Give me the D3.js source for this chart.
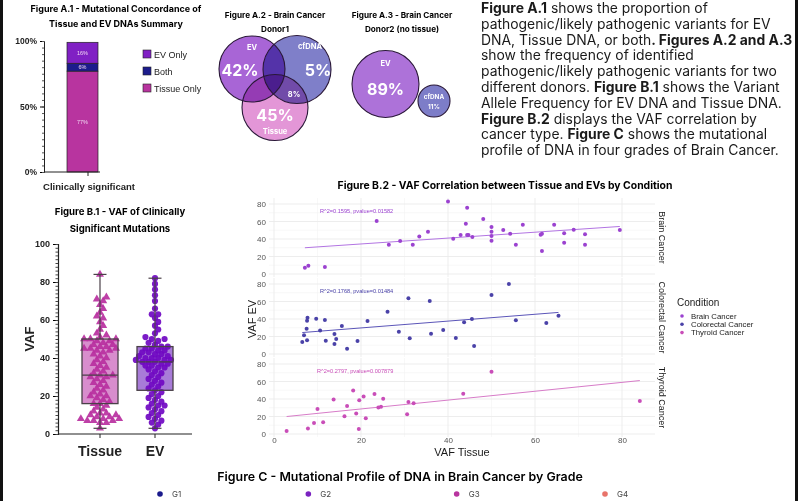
<!DOCTYPE html>
<html>
<head>
<meta charset="utf-8">
<script src="https://cdn.jsdelivr.net/npm/d3@7"></script>
<style>
  body { margin: 0; background: #fff; }
  svg { display: block; }
  .poppins { font-family: Inter, "Open Sans", sans-serif; }
  .arial { font-family: "Liberation Sans", Arial, sans-serif; }
</style>
</head>
<body>
<script>
// ---- data ----
// A.1 stacked bar (bottom to top)
var a1Labels = ["Tissue Only", "Both", "EV Only"];
var a1Values = [77, 6, 16];
var a1Colors = ["#b8349f", "#1c1c8c", "#8020c4"];

// A.2 / A.3 venn labels
var donor1Sets = ["EV", "cfDNA", "Tissue"];
var donor1Pct = [42, 5, 45];
var donor1Overlap = 8;
var donor2Sets = ["EV", "cfDNA"];
var donor2Pct = [89, 11];

// B.1 VAF per sample
var b1Groups = ["Tissue", "EV"];
var tissueVAF = [3, 6, 6, 7, 7, 7, 8, 8, 8, 9, 9, 10, 10, 11, 11, 12, 13, 14, 15, 16,
  16, 17, 18, 19, 20, 20, 21, 22, 23, 24, 25, 26, 27, 28, 29, 30, 30, 31, 31, 32,
  33, 34, 35, 36, 37, 38, 39, 40, 41, 42, 43, 44, 44, 45, 45, 45, 46, 46, 47, 47,
  48, 49, 49, 50, 50, 50, 51, 52, 53, 55, 57, 59, 61, 62, 64, 66, 68, 70, 71, 72, 84];
var evVAF = [3, 5, 6, 7, 8, 9, 10, 11, 12, 13, 14, 15, 15, 16, 17, 18, 19, 20, 21, 22,
  23, 24, 25, 26, 27, 28, 29, 30, 31, 32, 33, 34, 35, 35, 36, 36, 37, 37, 38, 38,
  38, 39, 39, 39, 40, 40, 40, 41, 41, 42, 42, 43, 43, 44, 44, 45, 45, 46, 46, 47,
  48, 49, 50, 50, 51, 53, 55, 57, 59, 61, 63, 63, 66, 70, 73, 76, 79, 82];
// min, q1, median, q3, max
var tissueBox = [3, 16, 31, 50, 84];
var evBox = [3, 23, 38, 46, 82];

// B.2 VAF tissue (x) vs VAF EV (y)
var conditions = ["Brain Cancer", "Colorectal Cancer", "Thyroid Cancer"];
var brainX = [7.1, 7.9, 11.7, 23.6, 26.4, 29, 31.9, 33.4, 35.4, 40, 41.2, 42.9, 44.1, 44.4, 44.4, 44.7, 45.6, 48.1,
  50, 50, 50, 50, 52.7, 54.3, 55.6, 57.2, 61.3, 61.6, 61.6, 64.4, 66.7, 66.7, 68.9, 71.5, 71.5, 79.5];
var brainY = [7.2, 9.5, 8, 60.6, 33.5, 37.7, 33.5, 43, 48.4, 83, 40.4, 44.6, 57.5, 75.8, 44.6, 44.6, 42.3, 62.9,
  53.7, 48.4, 43.4, 38.1, 50.3, 46.1, 33.5, 56.4, 45, 46.1, 26.3, 56.4, 46.5, 35.8, 50.7, 45.3, 33.5, 50.3];
var colorectalX = [6.5, 6.9, 7.5, 7.6, 7.7, 7.6, 9.7, 10.6, 11.7, 11.9, 13.9, 13.9, 14.3, 15.6, 16.8, 19.2, 21.5,
  26.1, 28.7, 30.9, 31.2, 35.8, 36.1, 38.9, 41.8, 43.7, 45.5, 46, 50, 54, 55.6, 62.6, 65.4];
var colorectalY = [13.7, 21.3, 29, 38, 41.5, 15.6, 40.4, 27, 38.9, 15.2, 22.9, 11.4, 17.1, 32, 6, 14.9, 37.7,
  48.4, 25.5, 63.6, 17.9, 60.6, 23.2, 27.4, 18.3, 36.2, 40, 9.1, 67.4, 80, 38.5, 35.4, 43.8];
var thyroidX = [2.9, 7.8, 9.2, 10, 11.3, 13.7, 16.2, 16.8, 18.2, 18.9, 19.5, 19.6, 20.6, 21.1, 23.1, 24, 24.6,
  25.1, 30.6, 30.9, 32.1, 43.5, 50, 84.1];
var thyroidY = [3.3, 6.3, 12.6, 28.5, 13.3, 39.3, 20.4, 31.9, 49.6, 23.3, 5.6, 38.5, 43, 18.1, 45.6, 30.4, 31.1,
  40.4, 22.6, 36.7, 35.2, 45.9, 71.1, 37.8];
// fitted lines: intercept, slope
var fitIntercept = [27.6, 22, 18.5];
var fitSlope = [0.336, 0.39, 0.506];
var fitLabels = ["R^2=0.1595, pvalue=0.01582", "R^2=0.1768, pvalue=0.01484", "R^2=0.2797, pvalue=0.007879"];
var condColors = ["#9b42d0", "#4a42a8", "#c94db8"];
var lineColors = ["#b274e2", "#5b55b8", "#d77cc8"];

// C legend
var grades = ["G1", "G2", "G3", "G4"];
var gradeColors = ["#1a1a8c", "#7a22c0", "#b8349f", "#e8736a"];

var textLines = [
  [["Figure A.1", 1], [" shows the proportion of", 0]],
  [["pathogenic/likely pathogenic variants for EV", 0]],
  [["DNA, Tissue DNA, or both", 0], [". Figures A.2 and A.3", 1]],
  [["show the frequency of identified", 0]],
  [["pathogenic/likely pathogenic variants for two", 0]],
  [["different donors. ", 0], ["Figure B.1", 1], [" shows the Variant", 0]],
  [["Allele Frequency for EV DNA and Tissue DNA.", 0]],
  [["Figure B.2", 1], [" displays the VAF correlation by", 0]],
  [["cancer type. ", 0], ["Figure C", 1], [" shows the mutational", 0]],
  [["profile of DNA in four grades of Brain Cancer.", 0]]
];

var W = 802, H = 501;
var svg = d3.select("body").append("svg").attr("width", W).attr("height", H);

// ---------- Figure A.1 ----------
var a1 = svg.append("g");
a1.append("text").attr("class", "poppins").attr("x", 116).attr("y", 12).attr("text-anchor", "middle")
  .style("font-size", "9px").style("font-weight", 700).text("Figure A.1 - Mutational Concordance of");
a1.append("text").attr("class", "poppins").attr("x", 116).attr("y", 27).attr("text-anchor", "middle")
  .style("font-size", "9px").style("font-weight", 700).text("Tissue and EV DNAs Summary");

var a1y = d3.scaleLinear().domain([0, 100]).range([172, 41]);
var stack = [];
var acc = 0;
a1Values.forEach(function (v, i) { stack.push({ y0: acc, y1: acc + v, v: v, c: a1Colors[i], l: a1Labels[i] }); acc += v; });
a1.selectAll("rect.seg").data(stack).enter().append("rect")
  .attr("x", 67).attr("width", 31)
  .attr("y", function (d) { return a1y(d.y1); })
  .attr("height", function (d) { return a1y(d.y0) - a1y(d.y1); })
  .attr("fill", function (d) { return d.c; })
  .attr("stroke", "#222").attr("stroke-width", 0.7);
a1.selectAll("text.seg").data(stack).enter().append("text").attr("class", "arial")
  .attr("x", 82.5).attr("y", function (d) { return (a1y(d.y0) + a1y(d.y1)) / 2 + 2; })
  .attr("text-anchor", "middle").style("font-size", "5.5px").attr("fill", "#f1d6f2")
  .text(function (d) { return d.v + "%"; });
var a1Axis = d3.axisLeft(a1y).tickValues([0, 50, 100]).tickFormat(function (d) { return d + "%"; }).tickSize(4);
var ga1 = a1.append("g").attr("transform", "translate(44,0)").call(a1Axis);
ga1.select(".domain").attr("stroke", "#222");
ga1.selectAll("text").attr("class", "arial").style("font-size", "8.5px").style("font-weight", 700).attr("fill", "#222");
a1.append("g").attr("transform", "translate(44,0)")
  .call(d3.axisLeft(a1y).tickValues(d3.range(0, 101, 5)).tickSize(2).tickFormat(""))
  .call(function (g) { g.select(".domain").remove(); g.selectAll("line").attr("stroke", "#555"); });
a1.append("line").attr("x1", 44).attr("x2", 100).attr("y1", 172).attr("y2", 172).attr("stroke", "#222");
a1.append("line").attr("x1", 88).attr("x2", 88).attr("y1", 172).attr("y2", 176).attr("stroke", "#222");
a1.append("text").attr("class", "arial").attr("x", 89).attr("y", 190).attr("text-anchor", "middle")
  .style("font-size", "9.5px").style("font-weight", 700).attr("fill", "#222").text("Clinically significant");
var legA1 = a1.selectAll("g.leg").data(stack.slice().reverse()).enter().append("g")
  .attr("transform", function (d, i) { return "translate(143," + (50 + i * 17) + ")"; });
legA1.append("rect").attr("width", 8).attr("height", 8).attr("fill", function (d) { return d.c; })
  .attr("stroke", "#222").attr("stroke-width", 0.6);
legA1.append("text").attr("class", "arial").attr("x", 11).attr("y", 7.5).style("font-size", "9px")
  .attr("fill", "#222").text(function (d) { return d.l; });

// ---------- Figure A.2 / A.3 ----------
var ven = svg.append("g");
function title2(x, l1, l2) {
  ven.append("text").attr("class", "poppins").attr("x", x).attr("y", 17.5).attr("text-anchor", "middle")
    .style("font-size", "8.2px").style("font-weight", 700).text(l1);
  ven.append("text").attr("class", "poppins").attr("x", x).attr("y", 32).attr("text-anchor", "middle")
    .style("font-size", "8.2px").style("font-weight", 700).text(l2);
}
title2(275, "Figure A.2 - Brain Cancer", "Donor1");
title2(402, "Figure A.3 - Brain Cancer", "Donor2 (no tissue)");

var d1Circles = [
  { cx: 252, cy: 69, r: 33, fill: "#a865d6" },
  { cx: 297, cy: 69.5, r: 34, fill: "#7f7fc9" },
  { cx: 275, cy: 107.5, r: 33, fill: "#e396d7" }
];
ven.selectAll("circle.d1").data(d1Circles).enter().append("circle")
  .attr("cx", function (d) { return d.cx; }).attr("cy", function (d) { return d.cy; })
  .attr("r", function (d) { return d.r; }).attr("fill", function (d) { return d.fill; })
  .style("mix-blend-mode", "multiply");
ven.selectAll("circle.d1o").data(d1Circles).enter().append("circle")
  .attr("cx", function (d) { return d.cx; }).attr("cy", function (d) { return d.cy; })
  .attr("r", function (d) { return d.r; }).attr("fill", "none").attr("stroke", "#2a1838").attr("stroke-width", 1.1);
var d1Txt = [
  { x: 252, y: 50, s: 7.5, t: donor1Sets[0] },
  { x: 240, y: 76, s: 16, t: donor1Pct[0] + "%" },
  { x: 310, y: 49, s: 7.5, t: donor1Sets[1] },
  { x: 318, y: 76, s: 16, t: donor1Pct[1] + "%" },
  { x: 294, y: 97, s: 7.5, t: donor1Overlap + "%" },
  { x: 275, y: 121, s: 16, t: donor1Pct[2] + "%" },
  { x: 275, y: 134, s: 7.5, t: donor1Sets[2] }
];
ven.selectAll("text.d1").data(d1Txt).enter().append("text").attr("class", "poppins")
  .attr("x", function (d) { return d.x; }).attr("y", function (d) { return d.y; })
  .attr("text-anchor", "middle").style("font-size", function (d) { return d.s + "px"; })
  .style("font-weight", 700).attr("fill", "#fff").text(function (d) { return d.t; });

var d2Circles = [
  { cx: 385.5, cy: 84, r: 33.5, fill: "#ad72d9" },
  { cx: 434, cy: 101, r: 16, fill: "#7d7dc8" }
];
ven.selectAll("circle.d2").data(d2Circles).enter().append("circle")
  .attr("cx", function (d) { return d.cx; }).attr("cy", function (d) { return d.cy; })
  .attr("r", function (d) { return d.r; }).attr("fill", function (d) { return d.fill; })
  .attr("stroke", "#2a1838").attr("stroke-width", 1.1);
var d2Txt = [
  { x: 385.5, y: 66, s: 7.5, t: donor2Sets[0] },
  { x: 385.5, y: 95, s: 16, t: donor2Pct[0] + "%" },
  { x: 434, y: 99, s: 6.3, t: donor2Sets[1] },
  { x: 434, y: 108.5, s: 6.3, t: donor2Pct[1] + "%" }
];
ven.selectAll("text.d2").data(d2Txt).enter().append("text").attr("class", "poppins")
  .attr("x", function (d) { return d.x; }).attr("y", function (d) { return d.y; })
  .attr("text-anchor", "middle").style("font-size", function (d) { return d.s + "px"; })
  .style("font-weight", 700).attr("fill", "#fff").text(function (d) { return d.t; });

// ---------- description text ----------
var desc = svg.append("g");
textLines.forEach(function (line, i) {
  var t = desc.append("text").attr("class", "poppins").attr("x", 481).attr("y", 13 + i * 15.8)
    .style("font-size", "13.9px").attr("fill", "#1a1a1a");
  line.forEach(function (seg) {
    t.append("tspan").style("font-weight", seg[1] ? 700 : 400).text(seg[0]);
  });
});

// ---------- Figure B.1 ----------
var b1 = svg.append("g");
b1.append("text").attr("class", "poppins").attr("x", 120).attr("y", 215).attr("text-anchor", "middle")
  .style("font-size", "9.6px").style("font-weight", 700).text("Figure  B.1 - VAF of Clinically");
b1.append("text").attr("class", "poppins").attr("x", 120).attr("y", 232).attr("text-anchor", "middle")
  .style("font-size", "9.6px").style("font-weight", 700).text("Significant Mutations");
var b1y = d3.scaleLinear().domain([0, 100]).range([434, 244]);
var b1x = d3.scalePoint().domain(b1Groups).range([100, 155]);
var gb1 = b1.append("g").attr("transform", "translate(58,0)")
  .call(d3.axisLeft(b1y).tickValues(d3.range(0, 101, 20)).tickSize(5));
gb1.select(".domain").attr("stroke", "#222").attr("stroke-width", 1.2);
gb1.selectAll("text").attr("class", "arial").style("font-size", "9px").style("font-weight", 700).attr("fill", "#222");
b1.append("g").attr("transform", "translate(58,0)")
  .call(d3.axisLeft(b1y).tickValues(d3.range(0, 101, 2)).tickSize(2.5).tickFormat(""))
  .call(function (g) { g.select(".domain").remove(); g.selectAll("line").attr("stroke", "#444"); });
b1.append("line").attr("x1", 58).attr("x2", 192).attr("y1", 434).attr("y2", 434).attr("stroke", "#222").attr("stroke-width", 1.2);
b1Groups.forEach(function (g) {
  b1.append("line").attr("x1", b1x(g)).attr("x2", b1x(g)).attr("y1", 434).attr("y2", 438).attr("stroke", "#222");
  b1.append("text").attr("class", "arial").attr("x", b1x(g)).attr("y", 456).attr("text-anchor", "middle")
    .style("font-size", "14px").style("font-weight", 700).attr("fill", "#222").text(g);
});
b1.append("text").attr("class", "arial").attr("transform", "translate(34,339) rotate(-90)")
  .attr("text-anchor", "middle").style("font-size", "13px").style("font-weight", 700).attr("fill", "#222").text("VAF");

function swarm(values, cx, r) {
  var placed = [];
  values.slice().sort(function (a, b) { return a - b; }).forEach(function (v) {
    var y = b1y(v), x;
    for (var i = 0; i < 40; i++) {
      var off = i === 0 ? 0 : Math.ceil(i / 2) * r * 1.1 * (i % 2 ? 1 : -1);
      x = cx + off;
      var ok = placed.every(function (p) { return (p.x - x) * (p.x - x) + (p.y - y) * (p.y - y) >= (r * 1.7) * (r * 1.7); });
      if (ok) break;
    }
    placed.push({ x: x, y: y });
  });
  return placed;
}
var boxes = [
  { g: "Tissue", s: tissueBox, fill: "#d88dcd", pt: "#b8309f", vals: tissueVAF, sym: d3.symbolTriangle },
  { g: "EV", s: evBox, fill: "#a87bd8", pt: "#7008c2", vals: evVAF, sym: d3.symbolCircle }
];
boxes.forEach(function (b) {
  var cx = b1x(b.g), hw = 18;
  b1.append("rect").attr("x", cx - hw).attr("width", hw * 2).attr("y", b1y(b.s[3]))
    .attr("height", b1y(b.s[1]) - b1y(b.s[3])).attr("fill", b.fill);
  var pts = swarm(b.vals, cx, 2.9);
  b1.selectAll(null).data(pts).enter().append("path")
    .attr("transform", function (d) { return "translate(" + d.x + "," + d.y + ")"; })
    .attr("d", d3.symbol().type(b.sym).size(b.sym === d3.symbolTriangle ? 28 : 30))
    .attr("fill", b.pt).attr("fill-opacity", 0.92);
  var st = "#4a4048";
  b1.append("rect").attr("x", cx - hw).attr("width", hw * 2).attr("y", b1y(b.s[3]))
    .attr("height", b1y(b.s[1]) - b1y(b.s[3])).attr("fill", "none").attr("stroke", st).attr("stroke-width", 1.3);
  b1.append("line").attr("x1", cx - hw).attr("x2", cx + hw).attr("y1", b1y(b.s[2])).attr("y2", b1y(b.s[2]))
    .attr("stroke", st).attr("stroke-width", 1.3);
  [[b.s[0], b.s[1]], [b.s[3], b.s[4]]].forEach(function (w) {
    b1.append("line").attr("x1", cx).attr("x2", cx).attr("y1", b1y(w[0])).attr("y2", b1y(w[1]))
      .attr("stroke", st).attr("stroke-width", 1.2);
  });
  [b.s[0], b.s[4]].forEach(function (v) {
    b1.append("line").attr("x1", cx - 6.5).attr("x2", cx + 6.5).attr("y1", b1y(v)).attr("y2", b1y(v))
      .attr("stroke", st).attr("stroke-width", 1.2);
  });
});

// ---------- Figure B.2 ----------
var b2 = svg.append("g");
b2.append("text").attr("class", "poppins").attr("x", 505).attr("y", 189).attr("text-anchor", "middle")
  .style("font-size", "10.4px").style("font-weight", 700).text("Figure B.2 - VAF Correlation between Tissue and EVs by Condition");
var b2x = d3.scaleLinear().domain([0, 80]).range([274, 622]);
var panelL = 269, panelR = 655;
var series = [[brainX, brainY], [colorectalX, colorectalY], [thyroidX, thyroidY]];
conditions.forEach(function (c, i) {
  var off = 80 * i;
  var yS = d3.scaleLinear().domain([0, 80]).range([274 + off, 204 + off]);
  var top = 198 + off, bot = 277 + off;
  var gp = b2.append("g");
  // grid
  [10, 30, 50, 70].forEach(function (v) {
    gp.append("line").attr("x1", b2x(v)).attr("x2", b2x(v)).attr("y1", top).attr("y2", bot).attr("stroke", "#f4f4f4").attr("stroke-width", 0.6);
    gp.append("line").attr("x1", panelL).attr("x2", panelR).attr("y1", yS(v)).attr("y2", yS(v)).attr("stroke", "#f4f4f4").attr("stroke-width", 0.6);
  });
  [0, 20, 40, 60, 80].forEach(function (v) {
    gp.append("line").attr("x1", b2x(v)).attr("x2", b2x(v)).attr("y1", top).attr("y2", bot).attr("stroke", "#ebebeb").attr("stroke-width", 0.9);
    gp.append("line").attr("x1", panelL).attr("x2", panelR).attr("y1", yS(v)).attr("y2", yS(v)).attr("stroke", "#ebebeb").attr("stroke-width", 0.9);
  });
  var ga = gp.append("g").attr("transform", "translate(" + (panelL) + ",0)")
    .call(d3.axisLeft(yS).tickValues([0, 20, 40, 60, 80]).tickSize(0).tickPadding(3));
  ga.select(".domain").remove();
  ga.selectAll("text").attr("class", "arial").style("font-size", "8px").attr("fill", "#555");
  // strip label
  gp.append("text").attr("class", "arial").attr("transform", "translate(659," + ((top + bot) / 2) + ") rotate(90)")
    .attr("text-anchor", "middle").style("font-size", "9px").attr("fill", "#1a1a1a").text(c);
  // fit line
  var xs = series[i][0];
  var ext = d3.extent(xs);
  var ln = ext.map(function (x) { return [b2x(x), yS(fitIntercept[i] + fitSlope[i] * x)]; });
  gp.append("path").attr("d", d3.line()(ln)).attr("stroke", lineColors[i]).attr("stroke-width", 1).attr("fill", "none");
  // points
  var pts = xs.map(function (x, k) { return [x, series[i][1][k]]; });
  gp.selectAll("circle").data(pts).enter().append("circle")
    .attr("cx", function (d) { return b2x(d[0]); }).attr("cy", function (d) { return yS(d[1]); })
    .attr("r", 2).attr("fill", condColors[i]);
  gp.append("text").attr("class", "arial").attr("x", i === 2 ? 317 : 320).attr("y", yS(72) + 2)
    .style("font-size", "5.6px").attr("fill", condColors[i]).text(fitLabels[i]);
  if (i === 2) {
    var gx = gp.append("g").attr("transform", "translate(0," + (bot - 1) + ")")
      .call(d3.axisBottom(b2x).tickValues([0, 20, 40, 60, 80]).tickSize(0).tickPadding(1));
    gx.select(".domain").remove();
    gx.selectAll("text").attr("class", "arial").style("font-size", "8px").attr("fill", "#555");
  }
});
b2.append("text").attr("class", "arial").attr("x", 462).attr("y", 456).attr("text-anchor", "middle")
  .style("font-size", "11px").attr("fill", "#1a1a1a").text("VAF Tissue");
b2.append("text").attr("class", "arial").attr("transform", "translate(256,319) rotate(-90)")
  .attr("text-anchor", "middle").style("font-size", "11px").attr("fill", "#1a1a1a").text("VAF EV");
// legend
b2.append("text").attr("class", "arial").attr("x", 677).attr("y", 306).style("font-size", "10px")
  .attr("fill", "#1a1a1a").text("Condition");
var lg = b2.selectAll("g.lg").data(conditions).enter().append("g")
  .attr("transform", function (d, i) { return "translate(682," + (316 + i * 8.3) + ")"; });
lg.append("circle").attr("r", 1.8).attr("fill", function (d, i) { return condColors[i]; });
lg.append("text").attr("class", "arial").attr("x", 9).attr("y", 2.8).style("font-size", "7.8px")
  .attr("fill", "#1a1a1a").text(function (d) { return d; });

// ---------- Figure C ----------
var gc = svg.append("g");
gc.append("text").attr("class", "poppins").attr("x", 400).attr("y", 481).attr("text-anchor", "middle")
  .style("font-size", "12.4px").style("font-weight", 600).text("Figure C - Mutational Profile of DNA in Brain Cancer by Grade");
var cx = d3.scalePoint().domain(grades).range([160, 605]);
var lc = gc.selectAll("g.lc").data(grades).enter().append("g")
  .attr("transform", function (d) { return "translate(" + cx(d) + ",494)"; });
lc.append("circle").attr("r", 2.8).attr("fill", function (d, i) { return gradeColors[i]; });
lc.append("text").attr("class", "poppins").attr("x", 12).attr("y", 3).style("font-size", "8px")
  .attr("fill", "#444").text(function (d) { return d; });

// ---------- frame ----------
svg.append("rect").attr("x", 0).attr("y", 0).attr("width", 3).attr("height", H).attr("fill", "#111");
svg.append("rect").attr("x", 795).attr("y", 0).attr("width", 3).attr("height", H).attr("fill", "#111");
</script>
</body>
</html>
